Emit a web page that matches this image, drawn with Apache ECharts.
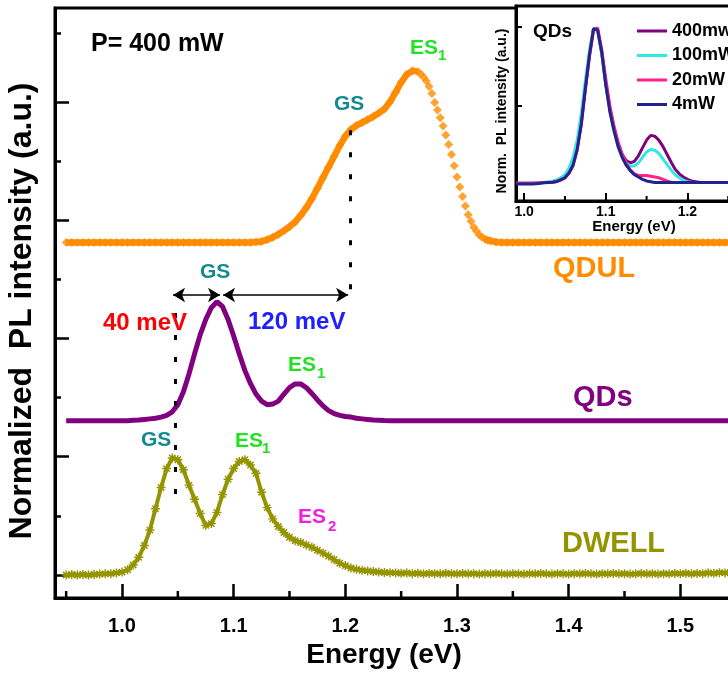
<!DOCTYPE html>
<html><head><meta charset="utf-8">
<script src="https://cdn.jsdelivr.net/npm/echarts@6/dist/echarts.min.js"></script>
<style>html,body{margin:0;padding:0;background:#fff}#c{width:728px;height:673px}</style>
</head><body><div id="c"></div>
<script>
// ---------- main panel data ----------
const energy = [
0.950,0.955,0.960,0.965,0.970,0.975,0.980,0.985,0.990,0.995,
1.000,1.005,1.010,1.015,1.020,1.025,1.030,1.035,1.040,1.045,
1.050,1.055,1.060,1.065,1.070,1.075,1.080,1.085,1.090,1.095,
1.100,1.105,1.110,1.115,1.120,1.125,1.130,1.135,1.140,1.145,
1.150,1.155,1.160,1.165,1.170,1.175,1.180,1.185,1.190,1.195,
1.200,1.205,1.210,1.215,1.220,1.225,1.230,1.235,1.240,1.245,
1.250,1.255,1.260,1.265,1.270,1.275,1.280,1.285,1.290,1.295,
1.300,1.305,1.310,1.315,1.320,1.325,1.330,1.335,1.340,1.345,
1.350,1.355,1.360,1.365,1.370,1.375,1.380,1.385,1.390,1.395,
1.400,1.405,1.410,1.415,1.420,1.425,1.430,1.435,1.440,1.445,
1.450,1.455,1.460,1.465,1.470,1.475,1.480,1.485,1.490,1.495,
1.500,1.505,1.510,1.515,1.520,1.525,1.530,1.535,1.540,1.545,
1.550,1.555,1.560];

const dwell = [
0.000,0.005,0.000,0.005,0.000,0.005,0.008,0.010,0.012,0.018,
0.025,0.045,0.085,0.150,0.250,0.380,0.560,0.740,0.900,0.990,
0.975,0.890,0.760,0.640,0.520,0.420,0.435,0.530,0.680,0.810,
0.900,0.960,0.975,0.930,0.860,0.700,0.570,0.475,0.410,0.360,
0.320,0.290,0.275,0.255,0.235,0.210,0.185,0.160,0.130,0.100,
0.080,0.060,0.048,0.040,0.035,0.030,0.025,0.022,0.020,0.018,
0.015,0.018,0.012,0.015,0.010,0.014,0.012,0.010,0.015,0.012,
0.010,0.014,0.010,0.012,0.008,0.012,0.010,0.014,0.010,0.008,
0.012,0.010,0.008,0.012,0.010,0.014,0.010,0.008,0.012,0.010,
0.008,0.012,0.010,0.014,0.010,0.008,0.012,0.010,0.014,0.010,
0.012,0.008,0.010,0.014,0.010,0.012,0.008,0.012,0.010,0.014,
0.012,0.015,0.010,0.014,0.012,0.018,0.015,0.020,0.018,0.022,
0.020,0.022,0.025];

const qds = [
1.305,1.305,1.305,1.305,1.305,1.305,1.305,1.305,1.305,1.305,
1.305,1.305,1.308,1.310,1.315,1.320,1.325,1.335,1.350,1.380,
1.440,1.550,1.700,1.870,2.030,2.160,2.260,2.310,2.270,2.160,
2.020,1.870,1.730,1.620,1.530,1.470,1.440,1.445,1.470,1.530,
1.585,1.615,1.615,1.585,1.535,1.480,1.430,1.390,1.365,1.350,
1.340,1.335,1.325,1.320,1.315,1.310,1.308,1.306,1.305,1.305,
1.305,1.305,1.305,1.305,1.305,1.305,1.305,1.305,1.305,1.305,
1.305,1.305,1.305,1.305,1.305,1.305,1.305,1.305,1.305,1.305,
1.305,1.305,1.305,1.305,1.305,1.305,1.305,1.305,1.305,1.305,
1.305,1.305,1.305,1.305,1.305,1.305,1.305,1.305,1.305,1.305,
1.305,1.305,1.305,1.305,1.305,1.305,1.305,1.305,1.305,1.305,
1.305,1.305,1.305,1.305,1.305,1.305,1.305,1.305,1.305,1.305,
1.305,1.305,1.305];

const qdul = [
2.810,2.810,2.810,2.810,2.810,2.810,2.810,2.810,2.810,2.810,
2.810,2.810,2.810,2.810,2.810,2.810,2.810,2.810,2.810,2.810,
2.810,2.810,2.810,2.810,2.810,2.810,2.810,2.810,2.810,2.810,
2.810,2.810,2.810,2.810,2.815,2.820,2.835,2.855,2.880,2.910,
2.945,2.985,3.040,3.105,3.180,3.270,3.360,3.450,3.540,3.630,
3.710,3.765,3.800,3.825,3.850,3.875,3.905,3.940,4.000,4.080,
4.165,4.230,4.262,4.255,4.210,4.130,3.995,3.865,3.720,3.555,
3.365,3.200,3.045,2.940,2.875,2.840,2.825,2.815,2.810,2.810,
2.810,2.810,2.810,2.810,2.810,2.810,2.810,2.810,2.810,2.810,
2.810,2.810,2.810,2.810,2.810,2.810,2.810,2.810,2.810,2.810,
2.810,2.810,2.810,2.810,2.810,2.810,2.810,2.810,2.810,2.810,
2.810,2.810,2.810,2.810,2.810,2.810,2.810,2.810,2.810,2.810,
2.810,2.810,2.810];

// extra QDUL points read on the falling edge
const qdulExtraEnergy = [1.2675,1.2725,1.2775,1.2825,1.2875,1.2925,1.2975,1.3025,1.3075,1.3125,1.3175,1.3225,1.3275];
const qdulExtra = [4.235,4.175,4.070,3.930,3.795,3.640,3.460,3.280,3.120,2.990,2.905,2.855,2.830];

const mainMajorTicks = [1.0,1.1,1.2,1.3,1.4,1.5];
const mainMinorTicks = [0.95,1.05,1.15,1.25,1.35,1.45,1.55];
const yMajorTicks = [0,1,2,3,4];
const yMinorTicks = [0.5,1.5,2.5,3.5,4.58];

// ---------- inset data ----------
const insetEnergy = [
0.990,0.995,
1.000,1.005,1.010,1.015,1.020,1.025,1.030,1.035,1.040,1.045,
1.050,1.055,1.060,1.065,1.070,1.075,1.080,1.085,1.090,1.095,
1.100,1.105,1.110,1.115,1.120,1.125,1.130,1.135,1.140,1.145,
1.150,1.155,1.160,1.165,1.170,1.175,1.180,1.185,1.190,1.195,
1.200,1.205,1.210,1.215,1.220,1.225,1.230,1.235,1.240,1.245,
1.250,1.255,1.260,1.265,1.270,1.275,1.280,1.285,1.290,1.295,
1.300];
const p400 = [
0.005,0.005,
0.005,0.005,0.005,0.008,0.010,0.010,0.012,0.015,0.025,0.035,
0.050,0.085,0.140,0.240,0.400,0.620,0.830,0.990,0.985,0.840,
0.640,0.480,0.360,0.260,0.190,0.150,0.135,0.145,0.180,0.230,
0.280,0.310,0.305,0.280,0.240,0.190,0.140,0.095,0.065,0.045,
0.030,0.020,0.015,0.012,0.010,0.010,0.010,0.010,0.010,0.010,
0.010,0.010,0.010,0.010,0.010,0.010,0.010,0.010,0.010,0.010,
0.010];
const p100 = [
0.005,0.005,
0.005,0.005,0.005,0.008,0.010,0.012,0.015,0.018,0.025,0.040,
0.060,0.100,0.170,0.280,0.450,0.660,0.850,0.990,0.980,0.830,
0.630,0.470,0.345,0.250,0.180,0.135,0.115,0.115,0.135,0.170,
0.205,0.220,0.215,0.195,0.160,0.125,0.090,0.060,0.040,0.025,
0.015,0.012,0.010,0.010,0.010,0.010,0.010,0.010,0.010,0.010,
0.010,0.010,0.010,0.010,0.010,0.010,0.010,0.010,0.010,0.010,
0.010];
const p20 = [
0.005,0.005,
0.005,0.005,0.005,0.005,0.008,0.010,0.010,0.012,0.015,0.025,
0.040,0.070,0.120,0.220,0.380,0.600,0.810,0.980,0.995,0.860,
0.670,0.500,0.370,0.270,0.190,0.130,0.090,0.065,0.055,0.055,
0.055,0.050,0.045,0.040,0.030,0.020,0.012,0.010,0.010,0.010,
0.010,0.010,0.010,0.010,0.010,0.010,0.010,0.010,0.010,0.010,
0.010,0.010,0.010,0.010,0.010,0.010,0.010,0.010,0.010,0.010,
0.010];
const p4 = [
0.000,0.000,
0.000,0.000,0.000,0.002,0.005,0.008,0.010,0.012,0.017,0.028,
0.040,0.070,0.120,0.220,0.380,0.610,0.820,0.990,0.980,0.840,
0.630,0.460,0.340,0.240,0.170,0.120,0.085,0.060,0.045,0.030,
0.020,0.015,0.010,0.010,0.010,0.010,0.010,0.010,0.010,0.010,
0.010,0.010,0.010,0.010,0.010,0.010,0.010,0.010,0.010,0.010,
0.010,0.010,0.010,0.010,0.010,0.010,0.010,0.010,0.010,0.010,
0.010];
const insetNames = ['400mw','100mW','20mW','4mW'];
const insetMajorTicks = [1.0,1.1,1.2];
const insetMinorTicks = [1.05,1.15,1.25];

// ---------- build ----------
const FONT = 'Liberation Sans, Arial, Helvetica, sans-serif';
const C = {orange:'#ff8c00', purple:'#800080', olive:'#949400', teal:'#138a90', green:'#22e022',
  red:'#ff0000', blue:'#2020ff', magenta:'#f020e0', cyan:'#30e6e6', pink:'#ff2288', navy:'#23238e'};
function zip(xs, ys){ return xs.map((x,i)=>[x, ys[i]]); }
const star = 'path://M4.2,0h1.6v10h-1.6z M0,4.2h10v1.6h-10z M0.9,2.1l1.2,-1.2l7,7l-1.2,1.2z M7.9,0.9l1.2,1.2l-7,7l-1.2,-1.2z';

const qdulLine = zip(energy, qdul).map(p => (p[0] > 1.267 && p[0] < 1.322) ? [p[0], null] : p);
const qdulPts = zip(energy, qdul).concat(zip(qdulExtraEnergy, qdulExtra));

// one x axis per grid: line + major ticks + labels
function xMainAxis(grid, min, max, majors, tickLen, tickW, size, margin){
  return {gridIndex:grid, type:'value', min:min, max:max, position:'bottom',
    axisLine:{show:true, onZero:false, lineStyle:{color:'#000', width:3}},
    axisTick:{show:true, inside:true, length:tickLen, customValues:majors, lineStyle:{color:'#000', width:tickW}},
    axisLabel:{show:true, customValues:majors, formatter:v=>v.toFixed(1), fontSize:size, fontWeight:'bold', color:'#000', fontFamily:FONT, margin:margin},
    splitLine:{show:false}};
}
function yTickAxis(grid, min, max, vals, len, w, showLine){
  return {gridIndex:grid, type:'value', min:min, max:max, position:'left',
    axisLine:{show:!!showLine, onZero:false, lineStyle:{color:'#000', width:3}},
    axisTick:{show:true, inside:true, length:len, customValues:vals, lineStyle:{color:'#000', width:w}},
    axisLabel:{show:false}, splitLine:{show:false}};
}

const chart = echarts.init(document.getElementById('c'), null, {renderer:'canvas'});

const texts = [
  ['P= 400 mW', 91, 44, 25, '#000'],
  ['ES', 410, 48, 21, C.green], ['1', 438, 56, 15, C.green],
  ['GS', 334, 104, 21, C.teal],
  ['QDUL', 553, 269, 29, C.orange],
  ['GS', 200, 272, 21, C.teal],
  ['40 meV', 103, 323, 24, C.red],
  ['120 meV', 248, 322, 24, C.blue],
  ['ES', 288, 365, 21, C.green], ['1', 317, 374, 15, C.green],
  ['QDs', 573, 398, 29, C.purple],
  ['GS', 141, 440, 21, C.teal],
  ['ES', 235, 441, 21, C.green], ['1', 262, 449, 15, C.green],
  ['ES', 298, 517, 21, C.magenta], ['2', 328, 527, 15, C.magenta],
  ['DWELL', 562, 544, 29, C.olive],
  ['QDs', 533, 32, 19, '#000']
];
const graphics = texts.map(t => ({
  type:'text', x:t[1], y:t[2], z:100, silent:true,
  style:{text:t[0], fill:t[4], fontSize:t[3], fontWeight:'bold', fontFamily:FONT, align:'left', verticalAlign:'middle'}
}));
graphics.push({type:'text', x:384, y:655, z:100, silent:true,
  style:{text:'Energy (eV)', fill:'#000', fontSize:28, fontWeight:'bold', fontFamily:FONT, align:'center', verticalAlign:'middle'}});
graphics.push({type:'text', x:22, y:311, rotation:Math.PI/2, z:100, silent:true,
  style:{text:'Normalized  PL intensity (a.u.)', fill:'#000', fontSize:32, fontWeight:'bold', fontFamily:FONT, align:'center', verticalAlign:'middle'}});
graphics.push({type:'text', x:634, y:227, z:100, silent:true,
  style:{text:'Energy (eV)', fill:'#000', fontSize:15, fontWeight:'bold', fontFamily:FONT, align:'center', verticalAlign:'middle'}});
graphics.push({type:'text', x:502, y:111, rotation:Math.PI/2, z:100, silent:true,
  style:{text:'Norm.  PL intensity (a.u.)', fill:'#000', fontSize:14, fontWeight:'bold', fontFamily:FONT, align:'center', verticalAlign:'middle'}});

const option = {
  animation: false,
  backgroundColor: '#fff',
  grid: [
    {left:55, top:8, right:-64, bottom:75, show:true, borderColor:'#000', borderWidth:3, backgroundColor:'transparent', outerBoundsMode:'none', containLabel:false},
    {left:516, top:6, right:-41, bottom:472, show:true, borderColor:'#000', borderWidth:3, backgroundColor:'#fff', outerBoundsMode:'none', containLabel:false}
  ],
  xAxis: [
    xMainAxis(0, 0.94, 1.6, mainMajorTicks, 14, 2.5, 20, 18),
    xMainAxis(1, 0.99, 1.30, insetMajorTicks, 8, 2, 14, 4)
  ],
  yAxis: [
    yTickAxis(0, -0.194, 4.793, yMajorTicks, 14, 2.5, true),
    yTickAxis(0, -0.194, 4.793, yMinorTicks, 6, 2.5, false),
    yTickAxis(1, -0.108, 1.134, [0.5, 1.0], 6, 2, true)
  ],
  legend: {
    data: insetNames, orient:'vertical', left:632, top:17, itemGap:6.5,
    icon:'rect', itemWidth:30, itemHeight:3, selectedMode:false,
    textStyle:{fontSize:18, fontWeight:'bold', color:'#000', fontFamily:FONT, lineHeight:18}
  },
  series: [
    {name:'DWELL', type:'line', xAxisIndex:0, yAxisIndex:0, data:zip(energy, dwell),
     color:C.olive, lineStyle:{width:4, color:C.olive}, symbol:star, symbolSize:9, showSymbol:true, showAllSymbol:true,
     itemStyle:{color:C.olive}, z:3},
    {name:'QDs', type:'line', xAxisIndex:0, yAxisIndex:0, data:zip(energy, qds),
     color:C.purple, lineStyle:{width:5, color:C.purple}, symbol:'none', z:3,
     markLine:{silent:true, animation:false, label:{show:false}, emphasis:{disabled:true},
       data:[
         [{coord:[1.0475,2.215], symbol:'none', lineStyle:{type:[5,17], width:3, color:'#000'}},
          {coord:[1.0475,0.634], symbol:'none'}],
         [{coord:[1.2043,3.76], symbol:'none', lineStyle:{type:[5,17], width:3, color:'#000'}},
          {coord:[1.2043,2.34], symbol:'none'}],
         [{coord:[1.0457,2.367], symbol:'arrow', symbolSize:[11,12], lineStyle:{type:'solid', width:1.5, color:'#000'}},
          {coord:[1.0878,2.367], symbol:'arrow', symbolSize:[11,12]}],
         [{coord:[1.0905,2.367], symbol:'arrow', symbolSize:[11,12], lineStyle:{type:'solid', width:1.5, color:'#000'}},
          {coord:[1.2025,2.367], symbol:'arrow', symbolSize:[11,12]}]
       ]}},
    {name:'QDUL', type:'line', xAxisIndex:0, yAxisIndex:0, data:qdulLine, connectNulls:false,
     color:C.orange, lineStyle:{width:6.5, color:C.orange}, symbol:'none', z:3},
    {name:'QDUL pts', type:'scatter', xAxisIndex:0, yAxisIndex:0, data:qdulPts,
     symbol:'diamond', symbolSize:9, itemStyle:{color:C.orange}, z:4},
    {name:'400mw', type:'line', xAxisIndex:1, yAxisIndex:2, data:zip(insetEnergy, p400),
     color:C.purple, lineStyle:{width:3, color:C.purple}, symbol:'none', z:5},
    {name:'100mW', type:'line', xAxisIndex:1, yAxisIndex:2, data:zip(insetEnergy, p100),
     color:C.cyan, lineStyle:{width:3, color:C.cyan}, symbol:'none', z:5},
    {name:'20mW', type:'line', xAxisIndex:1, yAxisIndex:2, data:zip(insetEnergy, p20),
     color:C.pink, lineStyle:{width:3, color:C.pink}, symbol:'none', z:5},
    {name:'4mW', type:'line', xAxisIndex:1, yAxisIndex:2, data:zip(insetEnergy, p4),
     color:C.navy, lineStyle:{width:3, color:C.navy}, symbol:'none', z:5}
  ],
  graphic: {elements: graphics}
};
chart.setOption(option);

// minor x ticks, positioned through the axes' own scales
function xTicks(xIdx, yIdx, yBottomVal, vals, len, w){
  const yb = chart.convertToPixel({yAxisIndex:yIdx}, yBottomVal);
  return vals.map(v => {
    const x = chart.convertToPixel({xAxisIndex:xIdx}, v);
    return {type:'line', z:150, silent:true, shape:{x1:x, y1:yb, x2:x, y2:yb - len}, style:{stroke:'#000', lineWidth:w}};
  });
}
try {
  const tickEls = [].concat(
    xTicks(0, 0, -0.194, mainMinorTicks, 7, 2.5),
    xTicks(1, 2, -0.108, insetMinorTicks, 5, 2)
  );
  chart.setOption({graphic: {elements: graphics.concat(tickEls)}});
} catch (e) {}
</script>
</body></html>
